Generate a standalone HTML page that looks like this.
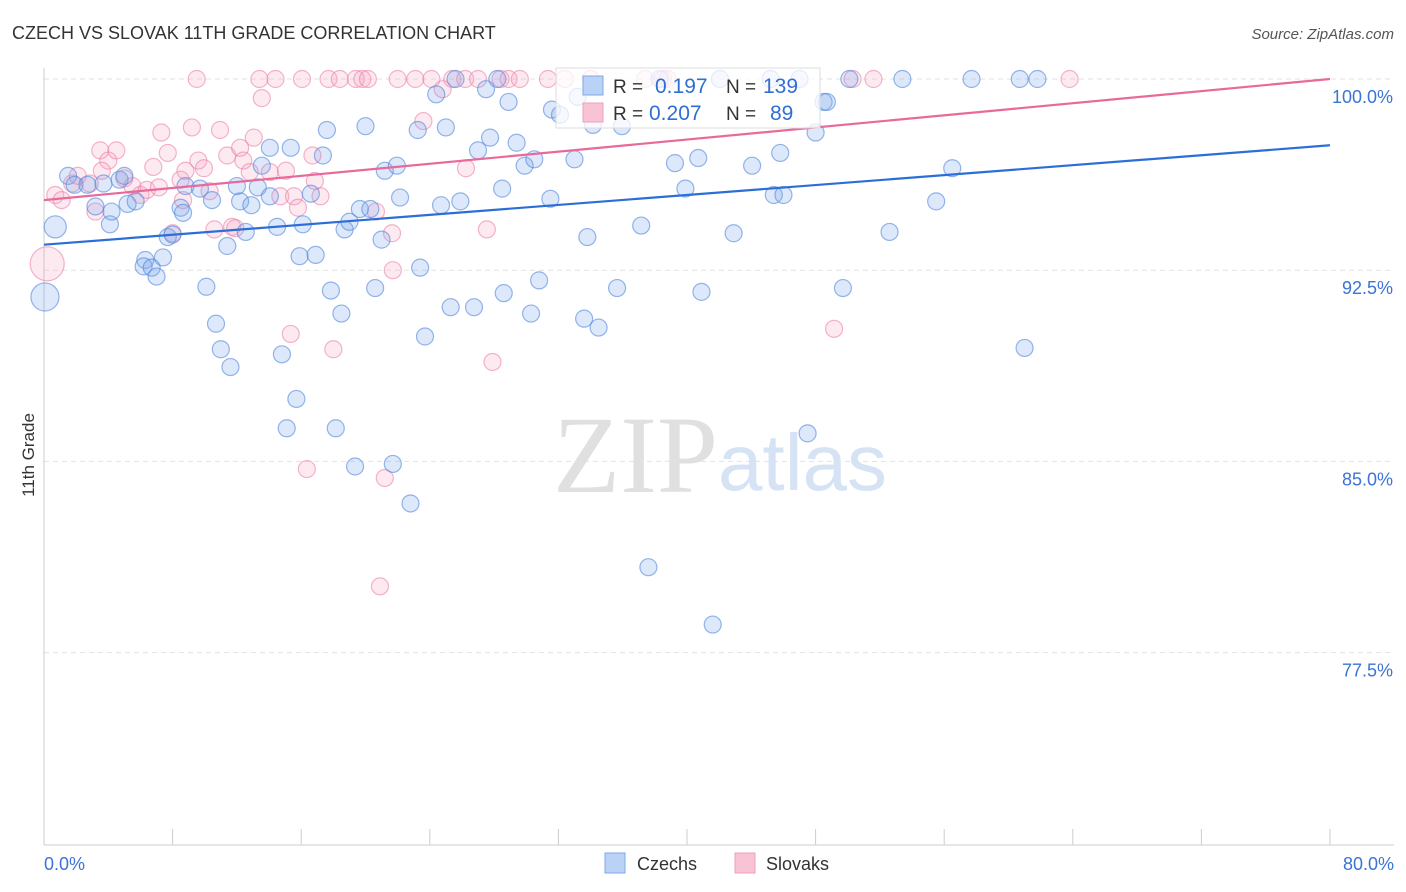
<!DOCTYPE html>
<html><head><meta charset="utf-8"><style>
body{margin:0;background:#fff;font-family:"Liberation Sans",sans-serif;}
#wrap{position:relative;width:1406px;height:892px;overflow:hidden;}
</style></head><body>
<div id="wrap">
<svg id="chart" width="1406" height="892" xmlns="http://www.w3.org/2000/svg">
<text x="12" y="39" font-size="18" fill="#333">CZECH VS SLOVAK 11TH GRADE CORRELATION CHART</text>
<text x="1394" y="39" font-size="15" fill="#555" font-style="italic" text-anchor="end">Source: ZipAtlas.com</text>
<g id="grid"></g>
<g>
<text x="553" y="492" font-size="110" font-family="Liberation Serif,serif" fill="#e0e0e0">ZIP</text>
<text x="718" y="490" font-size="80" fill="#d6e3f5">atlas</text>
</g>
<g id="pts"></g>
<g id="lines"></g>
<text transform="translate(34,455) rotate(-90)" font-size="17" fill="#333" text-anchor="middle">11th Grade</text>
<g>
<rect x="556" y="68" width="264" height="60" fill="rgba(255,255,255,0.75)" stroke="#ddd"/>
<rect x="583" y="76" width="20" height="19" fill="#b9d2f5" stroke="#7fa9e8"/>
<text x="613" y="93" font-size="19" fill="#333">R =</text><text x="655" y="93" font-size="21" fill="#2f6fd3">0.197</text>
<text x="726" y="93" font-size="19" fill="#333">N =</text><text x="763" y="93" font-size="21" fill="#2f6fd3">139</text>
<rect x="583" y="103" width="20" height="19" fill="#f8c3d4" stroke="#efa0bb"/>
<text x="613" y="120" font-size="19" fill="#333">R =</text><text x="649" y="120" font-size="21" fill="#2f6fd3">0.207</text>
<text x="726" y="120" font-size="19" fill="#333">N =</text><text x="770" y="120" font-size="21" fill="#2f6fd3">89</text>
</g>
<g>
<rect x="605" y="853" width="20" height="20" fill="#b9d2f5" stroke="#7fa9e8"/>
<text x="637" y="870" font-size="18" fill="#333">Czechs</text>
<rect x="735" y="853" width="20" height="20" fill="#f8c3d4" stroke="#efa0bb"/>
<text x="766" y="870" font-size="18" fill="#333">Slovaks</text>
</g>
</svg>
</div>
<script>
const xTickLabels=["0.0%","80.0%"];
const yTicks=[100,92.5,85,77.5];
const yTickLabels=["100.0%","92.5%","85.0%","77.5%"];
const czX=[0.7,0.06,1.5,1.9,2.7,3.7,3.2,4.1,4.2,5.2,5.7,4.7,5.0,6.3,6.2,6.7,7.0,7.4,7.7,8.0,8.5,8.65,8.8,9.7,10.1,10.45,10.7,11.0,11.4,11.6,12.0,12.2,12.55,12.9,13.3,13.55,14.05,14.05,14.5,14.8,15.1,15.35,15.7,15.9,16.1,16.6,16.9,17.35,17.6,17.85,18.15,18.5,18.7,19.0,19.35,19.65,20.0,20.3,20.6,21.0,21.2,21.7,21.95,22.15,22.8,23.25,23.4,23.7,24.4,24.7,25.0,25.3,25.6,25.9,26.75,27.0,27.5,27.75,28.2,28.5,28.6,28.9,29.4,29.9,30.3,30.5,30.8,31.5,31.6,32.1,33.0,33.2,33.6,33.8,34.15,34.5,35.65,35.95,37.15,37.6,38.3,39.25,39.9,40.7,40.9,41.6,42.05,42.9,44.05,45.2,45.4,45.8,46.0,47.0,47.5,48.0,48.5,48.7,49.7,50.1,52.6,53.4,55.5,56.5,57.7,60.7,61.0,61.8];
const czY=[94.2,91.45,96.2,95.85,95.85,95.9,95.0,94.3,94.8,95.1,95.2,96.05,96.2,92.9,92.65,92.6,92.25,93.0,93.8,93.9,94.95,94.75,95.8,95.7,91.85,95.25,90.4,89.4,93.45,88.7,95.8,95.2,94.0,95.05,95.75,96.6,97.3,95.4,94.2,89.2,86.3,97.3,87.45,93.05,94.3,95.5,93.1,97.0,98.0,91.7,86.3,90.8,94.1,94.4,84.8,94.9,98.15,94.9,91.8,93.7,96.4,84.9,96.6,95.35,83.35,98.0,92.6,89.9,99.4,95.05,98.1,91.05,100,95.2,91.05,97.2,99.6,97.7,100,95.7,91.6,99.1,97.5,96.6,90.8,96.85,92.1,95.3,98.8,98.6,96.85,99.3,90.6,93.8,98.2,90.25,91.8,98.15,94.25,80.85,100,96.7,95.7,96.9,91.65,78.6,100,93.95,96.6,100,95.45,97.1,95.45,100,86.1,97.9,99.1,99.1,91.8,100,94.0,100,95.2,96.5,100,100,89.45,100];
const czSize=[1.3,1.65];
const skX=[0.2,0.7,1.1,1.75,2.1,2.85,3.5,4.0,4.5,3.6,3.2,5.0,5.5,6.0,6.4,6.8,7.15,7.3,7.7,8.0,8.5,8.65,8.8,9.2,9.6,9.95,10.3,10.6,10.95,11.4,11.7,11.9,12.2,12.4,12.8,13.05,13.4,13.55,14.05,14.4,14.7,15.05,15.35,15.55,15.8,16.05,16.35,16.7,16.85,17.2,17.7,18.0,18.4,19.4,19.8,20.15,20.65,20.9,21.2,21.65,21.7,22.0,23.1,23.6,24.1,24.8,25.4,26.2,27.0,27.55,27.9,28.4,28.9,29.6,31.35,32.4,34.0,37.4,38.5,38.8,49.15,50.3,51.6,63.8,26.25,9.5];
const skY=[92.75,95.45,95.25,95.9,96.2,95.9,97.2,96.8,97.2,96.4,94.8,96.1,95.8,95.45,95.65,96.55,95.75,97.9,97.1,93.95,96.05,95.25,96.4,98.1,96.8,96.5,95.6,94.1,98.0,97.0,94.2,94.15,97.3,96.8,96.35,97.7,100,99.25,96.35,100,95.4,96.4,90.0,95.4,94.95,100,84.7,97.0,96.0,95.4,100,89.4,100,100,100,100,94.8,80.1,84.35,93.95,92.5,100,100,98.35,100,99.6,100,100,100,94.1,88.9,100,100,100,100,100,100,100,100,100,90.2,100,100,100,96.5,100];
const skSize=[2.0];
const czLine=[93.5,97.4];
const skLine=[95.25,100];

const NS="http://www.w3.org/2000/svg";
const X0=44,X1=1330,Y0=79;
function sx(v){return X0+(v/80)*(X1-X0);}
function sy(v){return Y0+(100-v)*(191.2/7.5);}
function mk(tag,attrs,parent){const e=document.createElementNS(NS,tag);for(const k in attrs)e.setAttribute(k,attrs[k]);parent.appendChild(e);return e;}
const grid=document.getElementById('grid');
yTicks.forEach((t,i)=>{
  const l=mk('line',{x1:X0,x2:1394,y1:sy(t),y2:sy(t),stroke:'#e2e2e2','stroke-dasharray':'5,4'},grid);
  
  
  const tx=mk('text',{x:1393,y:sy(t)+24,'font-size':18,fill:'#3b73d6','text-anchor':'end'},grid);
  tx.textContent=yTickLabels[i];
  
  
});
const ax=mk('line',{x1:X0,x2:X0,y1:68,y2:845,stroke:'#ccc'},grid);


const bx=mk('line',{x1:X0,x2:1394,y1:845,y2:845,stroke:'#ccc'},grid);


for(let i=0;i<=10;i++){
  const t=mk('line',{x1:sx(i*8),x2:sx(i*8),y1:829,y2:845,stroke:'#ccc'},grid);
  
  
}
const xl0=mk('text',{x:44,y:870,'font-size':18,fill:'#3b73d6'},grid);xl0.textContent=xTickLabels[0];


const xl1=mk('text',{x:1394,y:870,'font-size':18,fill:'#3b73d6','text-anchor':'end'},grid);xl1.textContent=xTickLabels[1];


const pts=document.getElementById('pts');
function draw(xs,ys,sz,fill,stroke,name){
  xs.forEach((x,i)=>{
    const r=8.5*(sz[i]||1);
    const c=mk('circle',{cx:sx(x),cy:sy(ys[i]),r:r,fill:fill,stroke:stroke,'stroke-width':1.2},pts);
    
    
  });
}
draw(skX,skY,skSize,'rgba(244,160,190,0.22)','rgba(236,130,170,0.6)','slovak-point');
draw(czX,czY,czSize,'rgba(120,165,235,0.25)','rgba(80,135,220,0.6)','czech-point');
const lines=document.getElementById('lines');
const l1=mk('line',{x1:sx(0),y1:sy(czLine[0]),x2:sx(80),y2:sy(czLine[1]),stroke:'#2b6fd6','stroke-width':2.2},lines);


const l2=mk('line',{x1:sx(0),y1:sy(skLine[0]),x2:sx(80),y2:sy(skLine[1]),stroke:'#e8699a','stroke-width':2.2},lines);


</script>
</body></html>
